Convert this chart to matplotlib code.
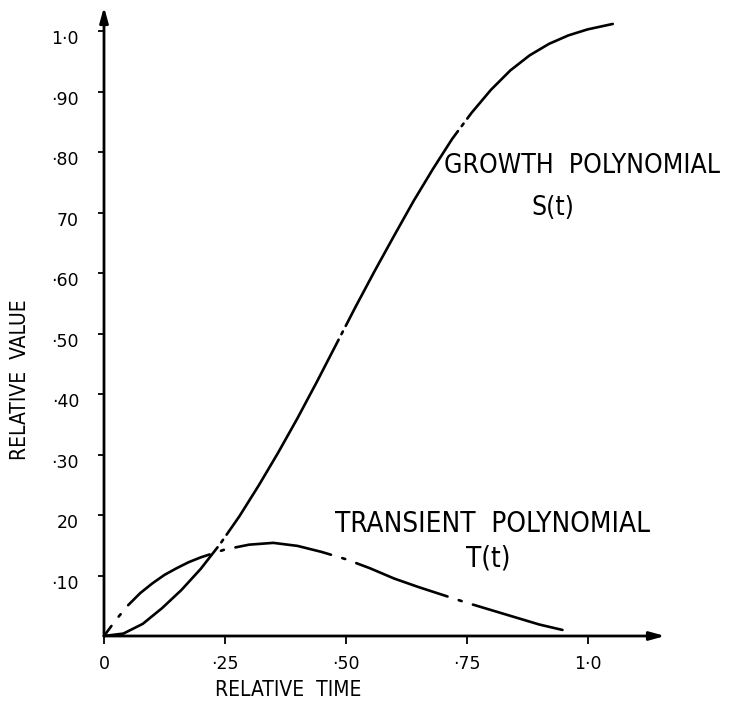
import matplotlib
matplotlib.use('Agg')
import matplotlib.pyplot as plt
import matplotlib.transforms as mtransforms

# values
s_time = [0, 0.04, 0.08, 0.12, 0.16, 0.20, 0.24, 0.28, 0.32, 0.36, 0.40,
          0.44, 0.48, 0.52, 0.56, 0.60, 0.64, 0.68, 0.72, 0.76, 0.80, 0.84,
          0.88, 0.92, 0.96, 1.0, 1.052]
s_value = [0, 0.004, 0.020, 0.046, 0.076, 0.111, 0.152, 0.198, 0.249, 0.303,
           0.360, 0.420, 0.482, 0.544, 0.604, 0.662, 0.719, 0.772, 0.822,
           0.865, 0.903, 0.935, 0.960, 0.979, 0.993, 1.003, 1.012]

t_time = [0, 0.025, 0.05, 0.075, 0.10, 0.125, 0.15, 0.175, 0.20, 0.25, 0.30,
          0.35, 0.40, 0.45, 0.50, 0.55, 0.60, 0.65, 0.70, 0.75, 0.80, 0.85,
          0.90, 0.948]
t_value = [0, 0.027, 0.051, 0.071, 0.087, 0.101, 0.112, 0.122, 0.130, 0.143,
           0.151, 0.154, 0.149, 0.139, 0.127, 0.112, 0.095, 0.081, 0.068,
           0.055, 0.043, 0.031, 0.019, 0.010]

y_ticks = [0.1, 0.2, 0.3, 0.4, 0.5, 0.6, 0.7, 0.8, 0.9, 1.0]
y_labels = ['\u00b710', '20', '\u00b730', '\u00b740', '\u00b750', '\u00b760',
            '70', '\u00b780', '\u00b790', '1\u00b70']
x_ticks = [0, 0.25, 0.5, 0.75, 1.0]
x_labels = ['0', '\u00b725', '\u00b750', '\u00b775', '1\u00b70']

plt.rcParams['lines.scale_dashes'] = False
plt.rcParams['font.family'] = ['DejaVu Sans']

fig = plt.figure(figsize=(7.41, 7.07), dpi=100)
ax = fig.add_axes([104 / 741, 71 / 707, 561 / 741, 629 / 707])
ax.set_xlim(0, 1.16)
ax.set_ylim(0, 1.04)

for side in ['top', 'right', 'left', 'bottom']:
    ax.spines[side].set_visible(False)

# axes drawn as arrows like the hand-drawn original
arrow = dict(arrowstyle='-|>,head_length=0.9,head_width=0.25', lw=2.0,
             color='black', shrinkA=0, shrinkB=0)
ax.annotate('', xy=(1.0, 0), xytext=(0, 0), xycoords='axes fraction',
            arrowprops=arrow, annotation_clip=False)
ax.annotate('', xy=(0, 1.0), xytext=(0, 0), xycoords='axes fraction',
            arrowprops=arrow, annotation_clip=False)

# growth polynomial: long dashes broken by a dot
ax.plot(s_time, s_value, color='black', lw=1.9,
        linestyle=(55, (162, 4.5, 2.2, 4.5)), solid_capstyle='round',
        dash_capstyle='round', solid_joinstyle='round', clip_on=False)
# transient polynomial: chain (dash-dot) line
ax.plot(t_time, t_value, color='black', lw=1.9,
        linestyle=(61, (70, 8.5, 2.2, 8.5)), solid_capstyle='round',
        dash_capstyle='round', solid_joinstyle='round', clip_on=False)

ax.set_yticks(y_ticks)
ax.set_yticklabels(y_labels)
ax.set_xticks(x_ticks)
ax.set_xticklabels(x_labels)
ax.tick_params(axis='y', direction='out', length=4, width=1.3, pad=14,
               labelsize=12.5)
ax.tick_params(axis='x', direction='out', length=6, width=1.3, pad=8,
               labelsize=12.5)
shift = mtransforms.ScaledTranslation(0, -6 / 100, fig.dpi_scale_trans)
for lab in ax.get_yticklabels():
    lab.set_transform(lab.get_transform() + shift)

cond = dict(fontstretch='condensed', color='black')
fig.text(20 / 741, 1 - 380 / 707, 'RELATIVE  VALUE', rotation=90,
         ha='center', va='center', fontsize=15, **cond)
fig.text(288 / 741, 1 - 690 / 707, 'RELATIVE  TIME', ha='center',
         va='center', fontsize=15, **cond)

fig.text(582 / 741, 1 - 166 / 707, 'GROWTH  POLYNOMIAL', ha='center',
         va='center', fontsize=19, **cond)
fig.text(553 / 741, 1 - 208 / 707, 'S(t)', ha='center', va='center',
         fontsize=19, **cond)
fig.text(492 / 741, 1 - 524 / 707, 'TRANSIENT  POLYNOMIAL', ha='center',
         va='center', fontsize=20, **cond)
fig.text(488 / 741, 1 - 558 / 707, 'T(t)', ha='center', va='center',
         fontsize=20, **cond)

fig.savefig('out.png', dpi=100, facecolor='white')
